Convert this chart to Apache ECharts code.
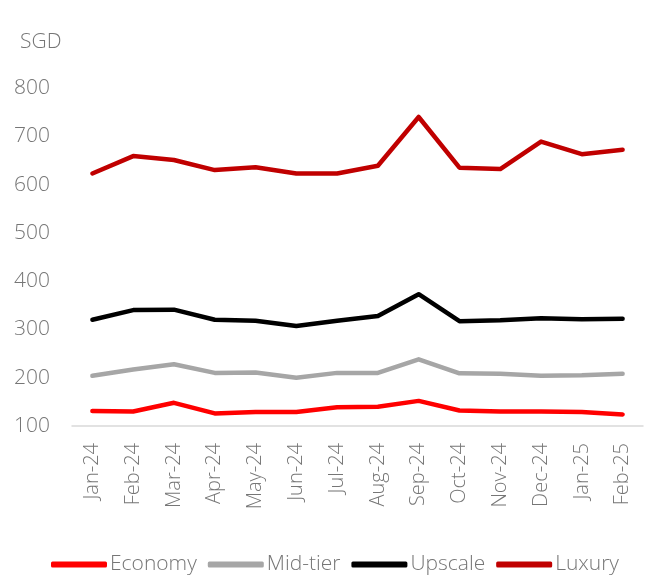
<!DOCTYPE html>
<html>
<head>
<meta charset="utf-8">
<script src="https://cdn.jsdelivr.net/npm/echarts@6/dist/echarts.min.js"></script>
<style>html,body{margin:0;padding:0;background:#fff;}#c{width:646px;height:576px;}</style>
</head>
<body>
<div id="c"></div>
<script>
const categories = ['Jan-24','Feb-24','Mar-24','Apr-24','May-24','Jun-24','Jul-24','Aug-24','Sep-24','Oct-24','Nov-24','Dec-24','Jan-25','Feb-25'];
const economy = [131,130,148,126,129,129,139,140,152,132,130,130,129,124];
const midTier = [204,217,228,210,211,200,210,210,238,209,208,204,205,208];
const upscale = [320,340,341,320,318,307,318,328,373,317,319,323,321,322];
const luxury = [623,659,651,630,636,623,623,639,740,635,632,689,663,672];
const yTicks = {min:100, max:800, interval:100};
const unitLabel = 'SGD';

const txt = '#767676';
const font = 'Open Sans';
const fw = 300;
function ser(name, data, color){
  return {name, type:'line', data, symbol:'none', lineStyle:{color, width:4.5, cap:'round', join:'round'}, itemStyle:{color}};
}
const chart = echarts.init(document.getElementById('c'));
chart.setOption({
  animation:false,
  title:{text:unitLabel, left:15, top:27, textStyle:{color:txt, fontFamily:font, fontSize:21, fontWeight:fw}},
  grid:{left:72, right:3, top:88, bottom:150},
  legend:{top:549, left:46, itemWidth:56, itemHeight:6, itemGap:11, icon:'roundRect',
    textStyle:{color:txt, fontFamily:font, fontSize:21, fontWeight:fw, padding:[0,0,0,-2]},
    data:['Economy','Mid-tier','Upscale','Luxury']},
  xAxis:{type:'category', data:categories, boundaryGap:true,
    axisLine:{lineStyle:{color:'#d9d9d9', width:1.5}}, axisTick:{show:false},
    axisLabel:{rotate:90, color:txt, fontFamily:font, fontSize:20, fontWeight:fw, margin:17, interval:0}},
  yAxis:{type:'value', min:yTicks.min, max:yTicks.max, interval:yTicks.interval,
    axisLine:{show:false}, axisTick:{show:false}, splitLine:{show:false},
    axisLabel:{color:txt, fontFamily:font, fontSize:21, fontWeight:fw, margin:22}},
  series:[ser('Economy',economy,'#FF0000'), ser('Mid-tier',midTier,'#A6A6A6'), ser('Upscale',upscale,'#000000'), ser('Luxury',luxury,'#C00000')]
});
</script>
</body>
</html>
